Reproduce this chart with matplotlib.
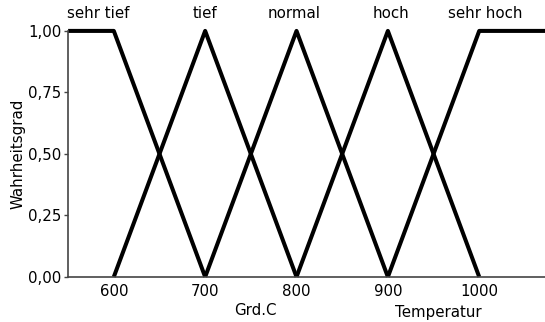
import numpy as np
import matplotlib.pyplot as plt

# membership functions (Temperatur in Grd.C -> Wahrheitsgrad)
names = ['sehr tief', 'tief', 'normal', 'hoch', 'sehr hoch']
xs = [
    [550, 600, 700],
    [600, 700, 800],
    [700, 800, 900],
    [800, 900, 1000],
    [900, 1000, 1075],
]
ys = [
    [1, 1, 0],
    [0, 1, 0],
    [0, 1, 0],
    [0, 1, 0],
    [0, 1, 1],
]
label_x = [583, 700, 797, 903, 1007]

x_ticks = [600, 700, 800, 900, 1000]
y_ticks = [0.0, 0.25, 0.5, 0.75, 1.0]

FS = 10.8

fig = plt.figure(figsize=(5.45, 3.22), dpi=100)
ax = fig.add_axes([0.125, 0.14, 0.875, 0.764])

for x, y in zip(xs, ys):
    ax.plot(x, y, color='black', linewidth=2.9, solid_capstyle='butt', clip_on=False)

for name, lx in zip(names, label_x):
    ax.text(lx, 1.04, name, ha='center', va='bottom', fontsize=FS)

ax.set_xlim(550, 1072)
ax.set_ylim(0, 1)
ax.set_xticks(x_ticks)
ax.set_xticklabels([str(v) for v in x_ticks])
ax.set_yticks(y_ticks)
ax.set_yticklabels([f'{v:.2f}'.replace('.', ',') for v in y_ticks])

ax.tick_params(axis='x', length=0, pad=5, labelsize=FS)
ax.tick_params(axis='y', length=3, width=1, pad=2, labelsize=FS, color='#444444')

for side in ['top', 'right']:
    ax.spines[side].set_visible(False)
for side in ['left', 'bottom']:
    ax.spines[side].set_color('#444444')
    ax.spines[side].set_linewidth(1.2)

ax.set_ylabel('Wahrheitsgrad', fontsize=FS, labelpad=2)
fig.text(0.468, 0.037, 'Grd.C', ha='center', va='center', fontsize=FS)
fig.text(0.804, 0.028, 'Temperatur', ha='center', va='center', fontsize=FS)

fig.savefig('out.png', dpi=100)
